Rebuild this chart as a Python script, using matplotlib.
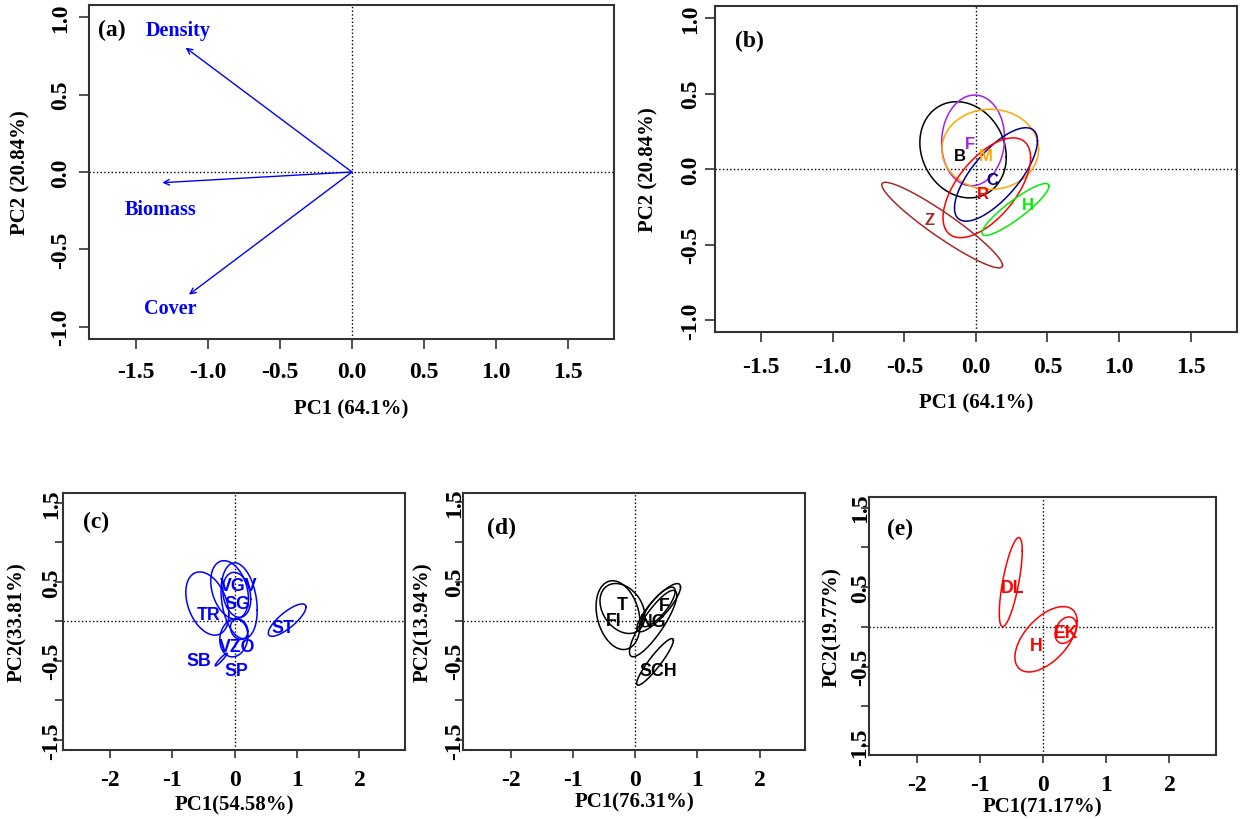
import matplotlib
matplotlib.use("Agg")
import matplotlib.pyplot as plt
import numpy as np

SERIF = "Liberation Serif"
SANS = "Liberation Sans"

plt.rcParams["font.family"] = [SERIF, "DejaVu Serif"]
plt.rcParams["font.weight"] = "bold"
plt.rcParams["axes.unicode_minus"] = False

# ── (a) loading vectors ───────────────────────────────────────────────────────
VAR_NAMES = ["Density", "Biomass", "Cover"]
VAR_PC1 = [-1.155, -1.317, -1.132]
VAR_PC2 = [0.804, -0.069, -0.793]
VAR_LABEL_X = [-1.21, -1.33, -1.26]
VAR_LABEL_Y = [0.92, -0.24, -0.88]

# ── (b) groups: centre, spread (x, y), correlation ───────────────────────────
B_GROUPS = ["B", "F", "M", "C", "R", "H", "Z"]
B_COLORS = ["black", "#A020F0", "#FFA500", "#00008B", "#FF0000", "#00EE00", "#A52A2A"]
B_CX = [-0.09, -0.02, 0.10, 0.14, 0.076, 0.277, -0.236]
B_CY = [0.128, 0.19, 0.131, -0.035, -0.123, -0.267, -0.37]
B_SX = [0.302, 0.22, 0.338, 0.29, 0.306, 0.234, 0.422]
B_SY = [0.318, 0.30, 0.265, 0.309, 0.33, 0.172, 0.283]
B_RHO = [-0.15, 0.05, 0.0, 0.72, 0.6, 0.9, -0.94]
B_LX = [-0.112, -0.042, 0.07, 0.116, 0.047, 0.36, -0.321]
B_LY = [0.093, 0.172, 0.093, -0.066, -0.159, -0.236, -0.33]

# ── (c) ───────────────────────────────────────────────────────────────────────
C_CX = [-0.44, -0.083, 0.07, 0.032, -0.015, 0.07, -0.22, 0.84]
C_CY = [0.225, 0.398, 0.26, 0.335, -0.21, -0.1, -0.485, 0.015]
C_SX = [0.345, 0.302, 0.29, 0.224, 0.225, 0.14, 0.095, 0.302]
C_SY = [0.40, 0.369, 0.48, 0.285, 0.24, 0.13, 0.08, 0.205]
C_RHO = [-0.35, -0.3, -0.25, -0.2, 0.1, -0.2, 0.95, 0.8]
C_LABELS = ["TR", "VGV", "SG", "VZO", "SB", "SP", "ST"]
C_LX = [-0.42, 0.059, 0.043, 0.031, -0.583, 0.031, 0.78]
C_LY = [0.092, 0.45, 0.227, -0.32, -0.49, -0.625, -0.084]

# ── (d) ───────────────────────────────────────────────────────────────────────
D_CX = [-0.273, -0.204, 0.38, 0.375, 0.29, 0.32]
D_CY = [0.076, 0.16, 0.17, 0.18, -0.03, -0.515]
D_SX = [0.354, 0.36, 0.35, 0.27, 0.38, 0.295]
D_SY = [0.435, 0.316, 0.305, 0.25, 0.42, 0.295]
D_RHO = [-0.25, -0.3, 0.85, 0.8, 0.85, 0.92]
D_LABELS = ["T", "FI", "F", "NG", "SCH"]
D_LX = [-0.214, -0.338, 0.466, 0.295, 0.375]
D_LY = [0.216, 0.013, 0.194, -0.008, -0.62]

# ── (e) ───────────────────────────────────────────────────────────────────────
E_CX = [-0.512, 0.047, 0.36]
E_CY = [0.564, -0.155, -0.04]
E_SX = [0.182, 0.493, 0.171]
E_SY = [0.56, 0.411, 0.166]
E_RHO = [0.7, 0.55, 0.3]
E_LABELS = ["DL", "H", "EK"]
E_LX = [-0.49, -0.103, 0.36]
E_LY = [0.494, -0.23, -0.07]

AB_XTICKS = [-1.5, -1.0, -0.5, 0.0, 0.5, 1.0, 1.5]
AB_YTICKS = [-1.0, -0.5, 0.0, 0.5, 1.0]
CDE_XTICKS = [-2, -1, 0, 1, 2]
CDE_YTICKS = [-1.5, -1.0, -0.5, 0.0, 0.5, 1.0, 1.5]
CDE_YTICKLABELS = ["-1.5", "", "-0.5", "", "0.5", "", "1.5"]


def ellipse_xy(cx, cy, sx, sy, rho, n=300):
    t = np.linspace(0, 2 * np.pi, n)
    x = cx + sx * np.cos(t)
    y = cy + sy * (rho * np.cos(t) + np.sqrt(1 - rho ** 2) * np.sin(t))
    return x, y


def style_axes(ax, xlim, ylim, xticks, xticklabels, yticks, yticklabels,
               xlabel, ylabel, xlab_y, ylab_x, ticklen, xpad, ypad):
    ax.set_xlim(xlim)
    ax.set_ylim(ylim)
    ax.axhline(0, color="black", ls=":", lw=1)
    ax.axvline(0, color="black", ls=":", lw=1)
    ax.set_xticks(xticks)
    ax.set_xticklabels(xticklabels)
    ax.set_yticks(yticks)
    ax.set_yticklabels(yticklabels)
    ax.tick_params(axis="both", direction="out", length=ticklen, width=1.2,
                   labelsize=17, color="#333333")
    ax.tick_params(axis="x", pad=xpad)
    ax.tick_params(axis="y", pad=ypad)
    plt.setp(ax.get_yticklabels(), rotation=90, va="center")
    for sp in ax.spines.values():
        sp.set_linewidth(1.5)
        sp.set_color("#333333")
    ax.set_xlabel(xlabel, fontsize=15, fontweight="bold")
    ax.set_ylabel(ylabel, fontsize=15, fontweight="bold")
    ax.xaxis.label.set_va("center")
    ax.yaxis.label.set_va("center")
    ax.xaxis.set_label_coords(0.5, xlab_y)
    ax.yaxis.set_label_coords(ylab_x, 0.5)


def draw_groups(ax, cx, cy, sx, sy, rho, colors):
    for i in range(len(cx)):
        x, y = ellipse_xy(cx[i], cy[i], sx[i], sy[i], rho[i])
        ax.plot(x, y, color=colors[i], lw=1.1)


def draw_labels(ax, labels, lx, ly, colors, size=12.8):
    for i, name in enumerate(labels):
        ax.text(lx[i], ly[i], name, color=colors[i], fontsize=size,
                fontweight="bold", family=SANS, ha="center", va="center")


def main():
    W, H = 1241, 820
    fig = plt.figure(figsize=(W / 100, H / 100), dpi=100)

    def box(l, r, t, b):
        return [l / W, 1 - b / H, (r - l) / W, (b - t) / H]

    ax_a = fig.add_axes(box(89, 614, 6, 340))
    ax_b = fig.add_axes(box(715.3, 1237, 6.7, 333))
    ax_c = fig.add_axes(box(63.3, 405, 494.3, 750.7))
    ax_d = fig.add_axes(box(463.3, 805, 494, 750.7))
    ax_e = fig.add_axes(box(869.4, 1215.5, 498.3, 756))

    ab_xl = [f"{v:.1f}" for v in AB_XTICKS]
    ab_yl = [f"{v:.1f}" for v in AB_YTICKS]
    cde_xl = [str(v) for v in CDE_XTICKS]

    # (a)
    style_axes(ax_a, (-1.826, 1.82), (-1.08, 1.08), AB_XTICKS, ab_xl,
               AB_YTICKS, ab_yl, "PC1 (64.1%)", "PC2 (20.84%)",
               -0.207, -0.131, 7, 9, 6)
    for i, name in enumerate(VAR_NAMES):
        ax_a.annotate("", xy=(VAR_PC1[i], VAR_PC2[i]), xytext=(0, 0),
                      arrowprops=dict(arrowstyle="->", color="blue", lw=1,
                                      shrinkA=0, shrinkB=0, mutation_scale=10))
        ax_a.text(VAR_LABEL_X[i], VAR_LABEL_Y[i], name, color="blue",
                  fontsize=14.5, fontweight="bold", ha="center", va="center")
    ax_a.text(-1.67, 0.92, "(a)", fontsize=17, fontweight="bold",
              ha="center", va="center")

    # (b)
    style_axes(ax_b, (-1.822, 1.825), (-1.077, 1.081), AB_XTICKS, ab_xl,
               AB_YTICKS, ab_yl, "PC1 (64.1%)", "PC2 (20.84%)",
               -0.2145, -0.129, 7, 10, 3.4)
    draw_groups(ax_b, B_CX, B_CY, B_SX, B_SY, B_RHO, B_COLORS)
    draw_labels(ax_b, B_GROUPS, B_LX, B_LY, B_COLORS, size=12)
    ax_b.text(-1.58, 0.85, "(b)", fontsize=17, fontweight="bold",
              ha="center", va="center")

    # (c)
    style_axes(ax_c, (-2.75, 2.73), (-1.625, 1.62), CDE_XTICKS, cde_xl,
               CDE_YTICKS, CDE_YTICKLABELS, "PC1(54.58%)", "PC2(33.81%)",
               -0.212, -0.1355, 5.5, 8.4, -4.4)
    draw_groups(ax_c, C_CX, C_CY, C_SX, C_SY, C_RHO, ["blue"] * len(C_CX))
    draw_labels(ax_c, C_LABELS, C_LX, C_LY, ["blue"] * len(C_LABELS))
    ax_c.text(-2.23, 1.27, "(c)", fontsize=17, fontweight="bold",
              ha="center", va="center")

    # (d)
    style_axes(ax_d, (-2.76, 2.73), (-1.625, 1.62), CDE_XTICKS, cde_xl,
               CDE_YTICKS, CDE_YTICKLABELS, "PC1(76.31%)", "PC2(13.94%)",
               -0.2, -0.119, 5.5, 8.4, -6.5)
    draw_groups(ax_d, D_CX, D_CY, D_SX, D_SY, D_RHO, ["black"] * len(D_CX))
    draw_labels(ax_d, D_LABELS, D_LX, D_LY, ["black"] * len(D_LABELS))
    ax_d.text(-2.14, 1.19, "(d)", fontsize=17, fontweight="bold",
              ha="center", va="center")

    # (e)
    style_axes(ax_e, (-2.75, 2.73), (-1.61, 1.63), CDE_XTICKS, cde_xl,
               CDE_YTICKS, CDE_YTICKLABELS, "PC1(71.17%)", "PC2(19.77%)",
               -0.198, -0.108, 5.5, 8.2, -6.5)
    draw_groups(ax_e, E_CX, E_CY, E_SX, E_SY, E_RHO, ["red"] * len(E_CX))
    draw_labels(ax_e, E_LABELS, E_LX, E_LY, ["red"] * len(E_LABELS))
    ax_e.text(-2.27, 1.24, "(e)", fontsize=17, fontweight="bold",
              ha="center", va="center")

    fig.savefig("out.png", dpi=100)
    plt.close(fig)


if __name__ == "__main__":
    main()
